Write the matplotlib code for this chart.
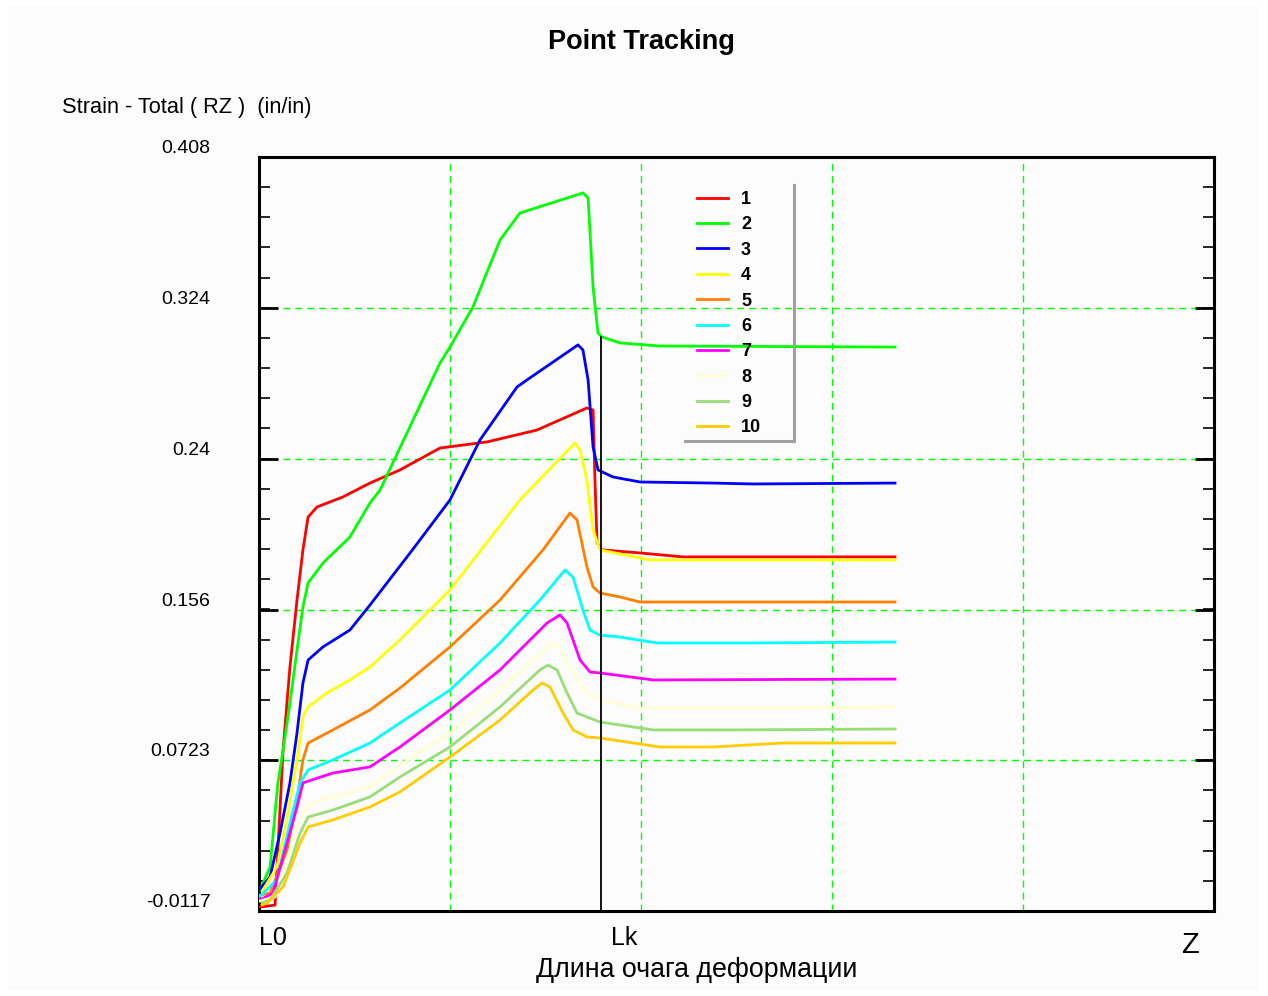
import numpy as np
import matplotlib.pyplot as plt
from matplotlib.patches import Rectangle
from matplotlib.lines import Line2D

plt.rcParams['font.family'] = ['Liberation Sans', 'DejaVu Sans']

# point tracking curves, x in units of the green grid (0..5), y = strain
x1 = [0.005, 0.084, 0.099, 0.126, 0.162, 0.199, 0.230, 0.257, 0.304, 0.440, 0.581, 0.738, 0.948, 1.194, 1.455, 1.717, 1.749, 1.759, 1.770, 1.796, 1.995, 2.220, 3.330]
y1 = [-0.0095, -0.0084, 0.0223, 0.0779, 0.1241, 0.1614, 0.1893, 0.2076, 0.2132, 0.2188, 0.2265, 0.2338, 0.2460, 0.2494, 0.2560, 0.2683, 0.2672, 0.2282, 0.1932, 0.1893, 0.1876, 0.1854, 0.1854]

x2 = [0.005, 0.058, 0.099, 0.126, 0.162, 0.199, 0.230, 0.257, 0.335, 0.476, 0.581, 0.634, 0.948, 1.000, 1.120, 1.262, 1.366, 1.696, 1.723, 1.749, 1.775, 1.796, 1.890, 2.099, 3.330]
y2 = [0.0, 0.0128, 0.0596, 0.0779, 0.1041, 0.1336, 0.1575, 0.1709, 0.1820, 0.1965, 0.2154, 0.2227, 0.2934, 0.3022, 0.3245, 0.3618, 0.3768, 0.3880, 0.3852, 0.3356, 0.3100, 0.3078, 0.3045, 0.3028, 0.3022]

x3 = [0.0, 0.058, 0.110, 0.162, 0.199, 0.230, 0.257, 0.335, 0.476, 0.581, 0.791, 1.000, 1.157, 1.351, 1.403, 1.670, 1.696, 1.723, 1.749, 1.775, 1.853, 1.995, 2.377, 2.586, 3.330]
y3 = [0.0, 0.0073, 0.0317, 0.0596, 0.0874, 0.1152, 0.1280, 0.1353, 0.1447, 0.1586, 0.1876, 0.2171, 0.2505, 0.2800, 0.2839, 0.3034, 0.3006, 0.2839, 0.2466, 0.2338, 0.2299, 0.2271, 0.2265, 0.2260, 0.2265]

x4 = [0.021, 0.094, 0.147, 0.199, 0.230, 0.257, 0.356, 0.476, 0.581, 0.738, 1.000, 1.366, 1.654, 1.681, 1.717, 1.749, 1.785, 1.995, 2.047, 3.330]
y4 = [0.0, 0.0128, 0.0406, 0.0724, 0.0963, 0.1019, 0.1097, 0.1169, 0.1241, 0.1392, 0.1670, 0.2171, 0.2488, 0.2449, 0.2282, 0.2004, 0.1893, 0.1848, 0.1837, 0.1837]

x5 = [0.005, 0.058, 0.147, 0.199, 0.230, 0.257, 0.387, 0.581, 0.738, 1.000, 1.262, 1.487, 1.628, 1.665, 1.717, 1.749, 1.785, 1.890, 1.995, 3.330]
y5 = [-0.0028, -0.0017, 0.0223, 0.0501, 0.0724, 0.0818, 0.0891, 0.1002, 0.1124, 0.1353, 0.1614, 0.1893, 0.2098, 0.2060, 0.1798, 0.1687, 0.1653, 0.1631, 0.1603, 0.1603]

x6 = [0.0, 0.094, 0.162, 0.215, 0.257, 0.387, 0.581, 0.738, 1.000, 1.262, 1.471, 1.602, 1.644, 1.696, 1.733, 1.785, 1.890, 2.084, 2.586, 3.330]
y6 = [-0.0039, 0.0056, 0.0373, 0.0596, 0.0668, 0.0724, 0.0818, 0.0930, 0.1113, 0.1375, 0.1614, 0.1781, 0.1742, 0.1559, 0.1447, 0.1419, 0.1408, 0.1375, 0.1375, 0.1380]

x7 = [0.005, 0.073, 0.147, 0.199, 0.230, 0.387, 0.581, 0.738, 1.000, 1.262, 1.508, 1.576, 1.613, 1.681, 1.733, 1.785, 2.063, 3.330]
y7 = [-0.0056, -0.0017, 0.0262, 0.0462, 0.0596, 0.0651, 0.0685, 0.0796, 0.1002, 0.1225, 0.1486, 0.1531, 0.1486, 0.1280, 0.1213, 0.1208, 0.1169, 0.1174]

x8 = [0.005, 0.084, 0.162, 0.215, 0.267, 0.581, 0.738, 1.000, 1.262, 1.539, 1.576, 1.644, 1.717, 1.785, 1.995, 2.607, 3.330]
y8 = [-0.0061, -0.0039, 0.0223, 0.0401, 0.0484, 0.0573, 0.0696, 0.0874, 0.1113, 0.1375, 0.1353, 0.1208, 0.1097, 0.1058, 0.1013, 0.1013, 0.1019]

x9 = [0.016, 0.058, 0.147, 0.215, 0.257, 0.387, 0.581, 0.738, 1.000, 1.262, 1.471, 1.513, 1.560, 1.613, 1.665, 1.785, 2.063, 2.482, 3.330]
y9 = [-0.0072, -0.0056, 0.0095, 0.0317, 0.0406, 0.0445, 0.0518, 0.0629, 0.0796, 0.1019, 0.1225, 0.1252, 0.1225, 0.1097, 0.0985, 0.0935, 0.0891, 0.0891, 0.0896]

x10 = [0.016, 0.042, 0.126, 0.215, 0.257, 0.387, 0.581, 0.738, 1.000, 1.262, 1.435, 1.482, 1.524, 1.592, 1.644, 1.717, 1.785, 2.099, 2.377, 2.743, 3.330]
y10 = [-0.0084, -0.0072, 0.0017, 0.0262, 0.0351, 0.0390, 0.0462, 0.0546, 0.0740, 0.0946, 0.1113, 0.1152, 0.1130, 0.0985, 0.0891, 0.0852, 0.0846, 0.0796, 0.0796, 0.0818, 0.0818]

labels = ['1', '2', '3', '4', '5', '6', '7', '8', '9', '10']
colors = ['#ff0000', '#00ff00', '#0000ff', '#ffff00', '#ff8000',
          '#00ffff', '#ff00ff', '#ffffd0', '#99dd77', '#ffcc00']

yticks = [-0.0117, 0.0723, 0.156, 0.24, 0.324, 0.408]
ytick_labels = ['-0.0117', '0.0723', '0.156', '0.24', '0.324', '0.408']
xgrid = [1, 2, 3, 4]
lk = 1.791        # position of Lk
lk_top = 0.3078   # vertical marker height

fig = plt.figure(figsize=(12.68, 9.96), dpi=100, facecolor='white')
bg = Rectangle((8/1268, 6/996), 1250/1268, 984/996, transform=fig.transFigure,
               facecolor='#fcfcfc', edgecolor='none', zorder=-10)
fig.add_artist(bg)
ax = fig.add_axes([259/1268, 85/996, 955/1268, 754/996])
ax.set_facecolor('#fcfcfc')

xs = [x1, x2, x3, x4, x5, x6, x7, x8, x9, x10]
ys = [y1, y2, y3, y4, y5, y6, y7, y8, y9, y10]
for xx, yy, c, lab in zip(xs, ys, colors, labels):
    ax.plot(xx, yy, color=c, lw=2.0, label=lab, zorder=3)

ax.plot([lk, lk], [yticks[0], lk_top], color='black', lw=1.3, zorder=4)

for g in xgrid:
    ax.axvline(g, color='#00ff00', lw=1.0, dashes=(5, 3.6), zorder=1)
for g in yticks[1:-1]:
    ax.axhline(g, color='#00ff00', lw=1.0, dashes=(5, 3.6), zorder=1)

ax.set_xlim(0, 5)
ax.set_ylim(yticks[0], yticks[-1])
ax.set_xticks([])
ax.set_yticks(yticks)
ax.set_yticklabels(ytick_labels, va='bottom')
ax.set_yticks(np.linspace(yticks[0], yticks[-1], 26), minor=True)
ax.tick_params(axis='y', which='major', direction='in', length=14, width=2,
               left=True, right=True, pad=35, labelsize=14)
ax.tick_params(axis='y', which='minor', direction='in', length=8, width=1.2,
               left=True, right=True)
for s in ax.spines.values():
    s.set_linewidth(2.2)

leg = ax.legend(loc='upper left', bbox_to_anchor=(0.4586, 0.955), frameon=False,
                borderpad=0, borderaxespad=0, handlelength=1.72, handletextpad=0.72,
                labelspacing=0.465, prop={'weight': 'bold', 'size': 13})
# legend shadow on the right and bottom
ax.add_line(Line2D([0.5602, 0.5602], [0.963, 0.6233], transform=ax.transAxes,
                   color='#a0a0a0', lw=2.2, zorder=5))
ax.add_line(Line2D([0.446, 0.5602], [0.6233, 0.6233], transform=ax.transAxes,
                   color='#a0a0a0', lw=2.2, zorder=5))

ax.text(0, -0.036, 'L0', transform=ax.transAxes, ha='left', va='center', fontsize=18)
ax.text((611 - 259) / 955, -0.036, 'Lk', transform=ax.transAxes, ha='left', va='center', fontsize=18)
ax.text(0.975, -0.045, 'Z', transform=ax.transAxes, ha='center', va='center', fontsize=21)
ax.text(0.4586, -0.078, 'Длина очага деформации', transform=ax.transAxes,
        ha='center', va='center', fontsize=19.3)

fig.text(0.5055, 0.958, 'Point Tracking', ha='center', va='center', fontsize=19.5, weight='bold')
fig.text(62/1268, 1 - 107/996, 'Strain - Total ( RZ )  (in/in)', ha='left', va='center', fontsize=15.7)

fig.savefig('out.png', dpi=100, facecolor=fig.get_facecolor())
